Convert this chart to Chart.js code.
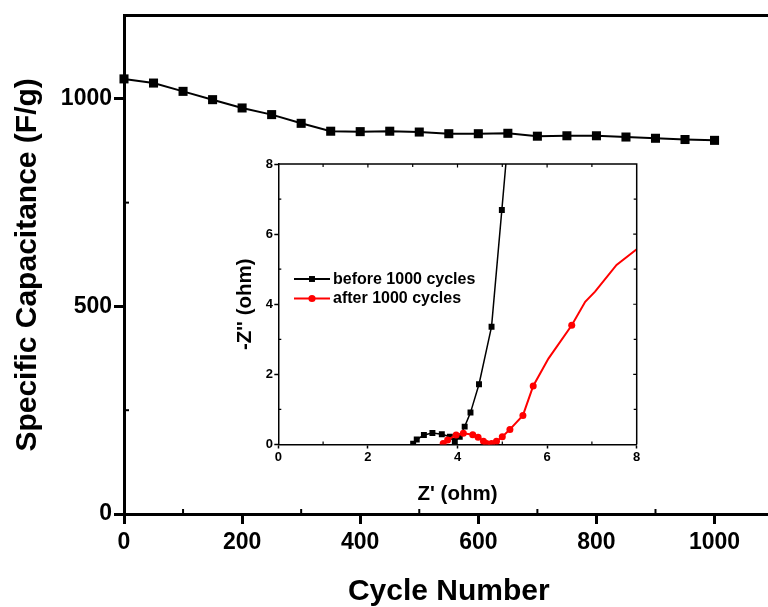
<!DOCTYPE html>
<html><head><meta charset="utf-8">
<script src="https://cdn.jsdelivr.net/npm/chart.js@4.4.1/dist/chart.umd.min.js"></script>
<style>
html,body{margin:0;padding:0;background:#fff;overflow:hidden;width:768px;height:607px;}
#wrap{position:relative;width:768px;height:607px;overflow:hidden;background:#fff;}
#main{position:absolute;left:0;top:0;}
#inset{position:absolute;left:235px;top:150px;}
</style></head><body>
<div id="wrap">
<canvas id="main" width="780" height="607"></canvas>
<canvas id="inset" width="415" height="360"></canvas>
</div>
<script>
// ---- main chart data ----
const cycles = [0,50,100,150,200,250,300,350,400,450,500,550,600,650,700,750,800,850,900,950,1000];
const capacitance = [1048,1038,1018,998,978,962,941,922,921,922,920,916,916,917,910,911,911,908,905,902,900];
const mainXTicks = [0,200,400,600,800,1000];
const mainXMinor = [100,300,500,700,900,1100];
const mainYTicks = [0,500,1000];
const mainYMinor = [250,750];
// ---- inset (Nyquist) data ----
const zReBefore = [3.01,3.09,3.25,3.44,3.65,3.83,3.94,4.05,4.16,4.29,4.48,4.76,4.99,5.25];
const zImBefore = [0.02,0.14,0.27,0.33,0.29,0.22,0.10,0.22,0.51,0.91,1.72,3.36,6.69,10.5];
const zReAfter = [3.68,3.78,3.97,4.13,4.34,4.46,4.58,4.65,4.76,4.87,5.00,5.17,5.46,5.69,6.03,6.55,6.85,7.07,7.55,8.00,8.40];
const zImAfter = [0.03,0.13,0.27,0.32,0.28,0.21,0.09,0.03,0.03,0.09,0.22,0.43,0.83,1.67,2.45,3.40,4.07,4.36,5.12,5.57,5.90];
const insetTicks = [0,2,4,6,8];
const labelBefore = 'before 1000 cycles';
const labelAfter = 'after 1000 cycles';

const F = '"Liberation Sans", Arial, Helvetica, sans-serif';
const pts = (xs, ys) => xs.map((v, i) => ({x: v, y: ys[i]}));
const fixTicks = arr => (s => { s.ticks = arr.map(v => ({value: v})); });
const plain = v => String(v);

const mainMinor = {
  id: 'mainMinor',
  afterDraw(chart) {
    const {ctx, chartArea: a, scales: {x, y}} = chart;
    ctx.save();
    ctx.strokeStyle = '#000';
    ctx.lineWidth = 2;
    for (const v of mainXMinor) {
      const px = x.getPixelForValue(v);
      ctx.beginPath(); ctx.moveTo(px, a.bottom); ctx.lineTo(px, a.bottom - 5); ctx.stroke();
    }
    for (const v of mainYMinor) {
      const py = y.getPixelForValue(v);
      ctx.beginPath(); ctx.moveTo(a.left, py); ctx.lineTo(a.left + 5, py); ctx.stroke();
    }
    ctx.restore();
  }
};

new Chart(document.getElementById('main'), {
  type: 'line',
  data: {
    datasets: [{
      data: pts(cycles, capacitance),
      borderColor: '#000', backgroundColor: '#000', borderWidth: 2,
      pointStyle: 'rect', pointRadius: 6.4, pointBorderWidth: 0,
      tension: 0, clip: false
    }]
  },
  options: {
    responsive: false, animation: false, devicePixelRatio: 1,
    layout: {padding: 0},
    plugins: {legend: {display: false}, tooltip: {enabled: false}},
    scales: {
      x: {
        type: 'linear', position: 'bottom', min: 0, max: 1100,
        afterBuildTicks: fixTicks(mainXTicks),
        ticks: {color: '#000', maxRotation: 0, padding: 5, autoSkip: false, callback: plain,
                font: {family: F, size: 23, weight: 'bold'}},
        grid: {drawOnChartArea: false, drawTicks: true, tickLength: 10, tickWidth: 3, tickColor: '#000'},
        border: {display: true, color: '#000', width: 3},
        title: {display: true, text: 'Cycle Number', color: '#000',
                font: {family: F, size: 30, weight: 'bold', lineHeight: 1}, padding: {top: 0, bottom: 0}},
        afterFit(s) { s.height = 93; }
      },
      x2: {
        type: 'linear', position: 'top', min: 0, max: 1100,
        ticks: {display: false}, grid: {display: false, drawTicks: false},
        border: {display: true, color: '#000', width: 3},
        afterFit(s) { s.height = 14; }
      },
      y: {
        type: 'linear', position: 'left', min: 0, max: 1200,
        afterBuildTicks: fixTicks(mainYTicks),
        ticks: {color: '#000', padding: 2, autoSkip: false, callback: plain,
                font: {family: F, size: 23, weight: 'bold'}},
        grid: {drawOnChartArea: false, drawTicks: true, tickLength: 10, tickWidth: 3, tickColor: '#000'},
        border: {display: true, color: '#000', width: 3},
        title: {display: true, text: 'Specific Capacitance (F/g)', color: '#000',
                font: {family: F, size: 30, weight: 'bold', lineHeight: 1}, padding: {top: 13, bottom: 0}},
        afterFit(s) { s.width = 124; }
      }
    }
  },
  plugins: [mainMinor]
});

const insetFrame = {
  id: 'insetFrame',
  afterDraw(chart) {
    const {ctx, chartArea: a, scales: {x, y}} = chart;
    ctx.save();
    ctx.strokeStyle = '#000';
    ctx.lineWidth = 1.5;
    ctx.beginPath();
    ctx.moveTo(a.left, a.top); ctx.lineTo(a.right, a.top); ctx.lineTo(a.right, a.bottom);
    ctx.stroke();
    ctx.lineWidth = 1.2;
    for (let v = 1; v < 8; v++) {
      const px = x.getPixelForValue(v), py = y.getPixelForValue(v);
      const len = v % 2 ? 3 : 3.5;
      ctx.beginPath();
      ctx.moveTo(px, a.top); ctx.lineTo(px, a.top + len);
      ctx.moveTo(a.right, py); ctx.lineTo(a.right - len, py);
      if (v % 2) {
        ctx.moveTo(px, a.bottom); ctx.lineTo(px, a.bottom - 3);
        ctx.moveTo(a.left, py); ctx.lineTo(a.left + 3, py);
      }
      ctx.stroke();
    }
    ctx.restore();
  }
};

const insetLegend = {
  id: 'insetLegend',
  afterDraw(chart) {
    const ctx = chart.ctx;
    const x0 = 59, y0 = 129, dy = 19.5;
    chart.data.datasets.forEach((ds, i) => {
      const yy = y0 + i * dy;
      ctx.save();
      ctx.strokeStyle = ds.borderColor;
      ctx.lineWidth = 2;
      ctx.beginPath(); ctx.moveTo(x0, yy); ctx.lineTo(x0 + 36, yy); ctx.stroke();
      ctx.fillStyle = ds.backgroundColor;
      ctx.strokeStyle = ds.backgroundColor;
      Chart.helpers.drawPoint(ctx, {pointStyle: ds.pointStyle, radius: i === 0 ? 4.2 : 3.6, rotation: 0, borderWidth: 0}, x0 + 18, yy);
      ctx.fillStyle = '#000';
      ctx.font = 'bold 16px ' + F;
      ctx.textBaseline = 'middle';
      ctx.textAlign = 'left';
      ctx.fillText(ds.label, x0 + 39, yy + 0.5);
      ctx.restore();
    });
  }
};

new Chart(document.getElementById('inset'), {
  type: 'line',
  data: {
    datasets: [
      {label: labelBefore, data: pts(zReBefore, zImBefore), order: 1,
       borderColor: '#000', backgroundColor: '#000', borderWidth: 1.5,
       pointStyle: 'rect', pointRadius: 4.2, pointBorderWidth: 0, tension: 0},
      {label: labelAfter, data: pts(zReAfter, zImAfter), order: 0,
       borderColor: '#ff0000', backgroundColor: '#ff0000', borderWidth: 2,
       pointStyle: 'circle', pointBorderWidth: 0, tension: 0,
       pointRadius: c => (c.dataIndex >= 14 && c.dataIndex !== 15) ? 0 : 3.5}
    ]
  },
  options: {
    responsive: false, animation: false, devicePixelRatio: 1,
    layout: {padding: {top: 14, right: 13.3, left: 0, bottom: 0}},
    plugins: {legend: {display: false}, tooltip: {enabled: false}},
    scales: {
      x: {
        type: 'linear', min: 0, max: 8,
        afterBuildTicks: fixTicks(insetTicks),
        ticks: {color: '#000', padding: 1.2, maxRotation: 0, autoSkip: false,
                font: {family: F, size: 13, weight: 'bold'}},
        grid: {drawOnChartArea: false, drawTicks: true, tickLength: 4, tickWidth: 1.5, tickColor: '#000'},
        border: {display: true, color: '#000', width: 1.5},
        title: {display: true, text: "Z' (ohm)", color: '#000',
                font: {family: F, size: 20.5, weight: 'bold', lineHeight: 1}, padding: {top: 0, bottom: 5}},
        afterFit(s) { s.height = 65.5; }
      },
      y: {
        type: 'linear', min: 0, max: 8,
        afterBuildTicks: fixTicks(insetTicks),
        ticks: {color: '#000', padding: 1.3, autoSkip: false,
                font: {family: F, size: 13, weight: 'bold'}},
        grid: {drawOnChartArea: false, drawTicks: true, tickLength: 4, tickWidth: 1.5, tickColor: '#000'},
        border: {display: true, color: '#000', width: 1.5},
        title: {display: true, text: "-Z'' (ohm)", color: '#000',
                font: {family: F, size: 20.5, weight: 'bold', lineHeight: 1}, padding: {top: 0.5, bottom: 0}},
        afterFit(s) { s.width = 43.3; }
      }
    }
  },
  plugins: [insetFrame, insetLegend]
});
</script>
</body></html>
